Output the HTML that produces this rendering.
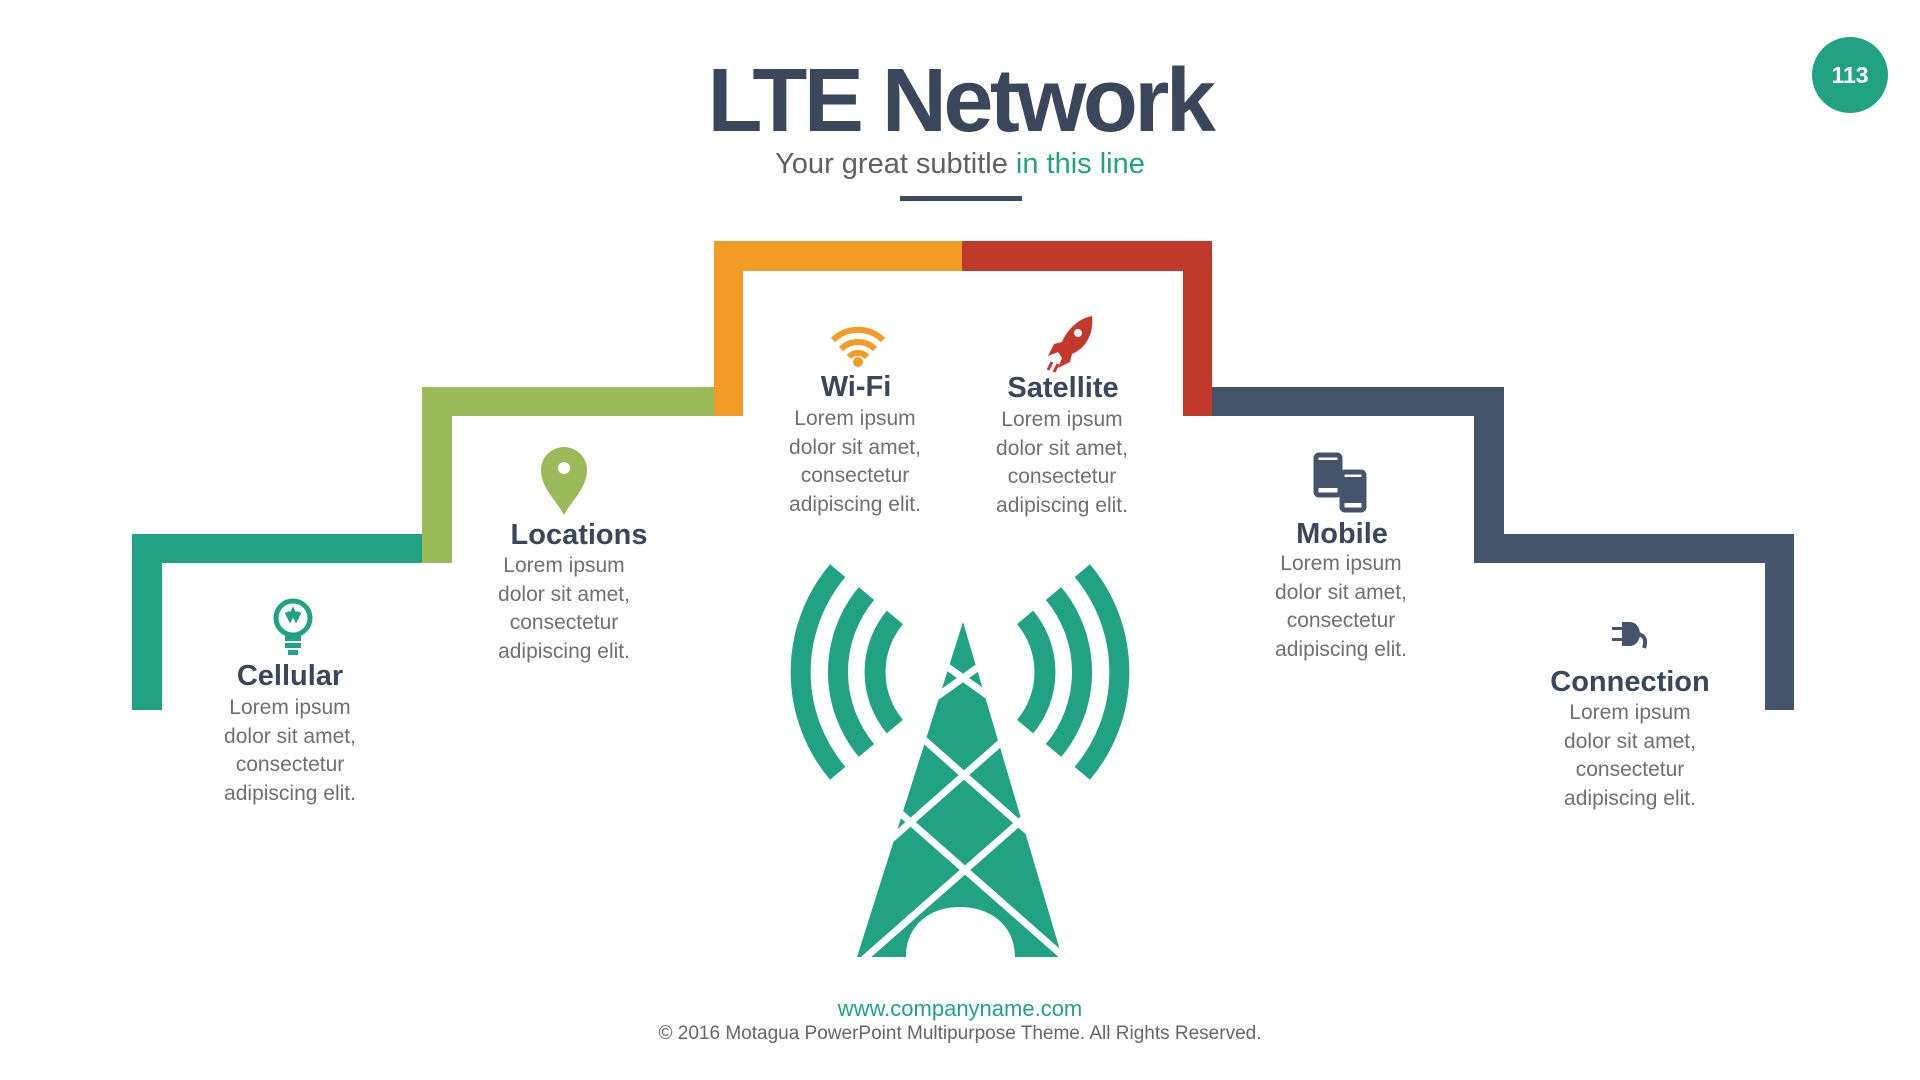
<!DOCTYPE html>
<html><head><meta charset="utf-8"><style>
body{margin:0;width:1920px;height:1080px;background:#fff;position:relative;overflow:hidden;font-family:"Liberation Sans",sans-serif}
.a{position:absolute}
.t{position:absolute;width:320px;text-align:center;font-weight:bold;font-size:29px;color:#3a475a;line-height:36px}
.b{position:absolute;width:320px;text-align:center;font-size:21px;color:#707070;line-height:28.5px}
</style></head><body>
<div class="a" style="left:0;width:1920px;top:46px;text-align:center;font-size:90px;font-weight:bold;letter-spacing:-3.5px;color:#3a475a;line-height:110px">LTE Network</div>
<div class="a" style="left:0;width:1920px;top:146px;text-align:center;font-size:29px;color:#606060;line-height:36px">Your great subtitle <span style="color:#21a383">in this line</span></div>
<div class="a" style="left:900px;top:196px;width:122px;height:5px;background:#3d4b60"></div>
<div class="a" style="left:1812px;top:37px;width:76px;height:76px;border-radius:50%;background:#21a383;color:#fff;font-weight:bold;font-size:23px;text-align:center;line-height:76px">113</div>

<svg class="a" style="left:0;top:0" width="1920" height="1080">
<g>
<rect x="132" y="534" width="30" height="176" fill="#21a383"/>
<rect x="132" y="534" width="290" height="29" fill="#21a383"/>
<rect x="422" y="387" width="30" height="176" fill="#9bbb5a"/>
<rect x="422" y="387" width="292" height="29" fill="#9bbb5a"/>
<rect x="714" y="241" width="29" height="175" fill="#f29b26"/>
<rect x="714" y="241" width="248" height="30" fill="#f29b26"/>
<rect x="962" y="241" width="250" height="30" fill="#c0392b"/>
<rect x="1183" y="241" width="29" height="175" fill="#c0392b"/>
<rect x="1212" y="387" width="292" height="29" fill="#44546a"/>
<rect x="1474" y="387" width="30" height="176" fill="#44546a"/>
<rect x="1474" y="534" width="320" height="29" fill="#44546a"/>
<rect x="1765" y="534" width="29" height="176" fill="#44546a"/>
</g>
<defs><clipPath id="tc"><path d="M963 622 L857 957 L906 957 C906 925 930 907 960 907 C990 907 1015 925 1015 957 L1062 957 Z"/></clipPath></defs>
<path d="M963 622 L857 957 L906 957 C906 925 930 907 960 907 C990 907 1015 925 1015 957 L1062 957 Z" fill="#21a383"/>
<g clip-path="url(#tc)" stroke="#fff" stroke-width="7">
<line x1="863" y1="607" x2="1063" y2="749"/><line x1="1063" y1="607" x2="863" y2="749"/>
<line x1="844" y1="669" x2="1084" y2="881"/><line x1="1084" y1="669" x2="844" y2="881"/>
<line x1="840" y1="760" x2="1090" y2="980"/><line x1="1090" y1="760" x2="840" y2="980"/>
</g>
<g fill="none" stroke="#21a383" stroke-width="20">
<path d="M837.7 570.7 A157 157 0 0 0 837.7 773.3"/>
<path d="M866.5 593.6 A122 122 0 0 0 866.5 750.4"/>
<path d="M894.9 617.4 A85 85 0 0 0 894.9 726.6" stroke-width="21"/>
<path d="M1082.3 570.7 A157 157 0 0 1 1082.3 773.3"/>
<path d="M1053.5 593.6 A122 122 0 0 1 1053.5 750.4"/>
<path d="M1025.1 617.4 A85 85 0 0 1 1025.1 726.6" stroke-width="21"/>
</g>
<g fill="none" stroke="#21a383" stroke-width="5">
<circle cx="293" cy="618" r="17"/>
<path d="M287 612 l3 6 l3-6 l3 6 l3-6"/>
</g>
<rect x="285" y="636" width="16" height="5" fill="#21a383"/><rect x="285" y="643" width="16" height="5" fill="#21a383"/><rect x="288" y="650" width="10" height="5" fill="#21a383"/>
<path d="M564 515 C556 500 541 488 541 470 A23 23 0 0 1 587 470 C587 488 572 500 564 515Z" fill="#9bbb5a"/>
<circle cx="564" cy="468" r="6" fill="#fff"/>
<g fill="none" stroke="#f29b26" stroke-width="6">
<path d="M833 340 A36 36 0 0 1 883 340"/><path d="M841 349 A24 24 0 0 1 875 349"/><path d="M849 357 A12 12 0 0 1 867 357"/>
</g>
<circle cx="858" cy="362" r="5" fill="#f29b26"/>
<path d="M1092 316 C1080 318 1068 328 1062 342 L1054 344 L1048 356 L1058 352 L1062 358 L1058 368 L1070 362 L1072 354 C1086 348 1094 334 1092 316Z" fill="#c0392b"/>
<circle cx="1078" cy="333" r="4" fill="#fff"/>
<path d="M1052 362 l-4 8 M1058 364 l-4 8" stroke="#c0392b" stroke-width="3"/>
<g fill="none" stroke="#44546a" stroke-width="5">
<rect x="1316" y="455" width="24" height="40" rx="3"/>
<rect x="1342" y="472" width="22" height="38" rx="3"/>
</g>
<rect x="1318" y="460" width="20" height="28" fill="#44546a"/><rect x="1344" y="477" width="18" height="26" fill="#44546a"/>
<path d="M1612 627 h10 v-5 h8 a10 12 0 0 1 0 24 h-8 v-5 h-10 v-3 h10 v-8 h-10z" fill="#44546a"/>
<path d="M1638 634 q10 2 6 14" fill="none" stroke="#44546a" stroke-width="4"/>
</svg>

<div class="t" style="left:130px;top:658px">Cellular</div>
<div class="b" style="left:130px;top:694px">Lorem ipsum<br>dolor sit amet,<br>consectetur<br>adipiscing elit.</div>
<div class="t" style="left:419px;top:517px">Locations</div>
<div class="b" style="left:404px;top:552px">Lorem ipsum<br>dolor sit amet,<br>consectetur<br>adipiscing elit.</div>
<div class="t" style="left:696px;top:369px">Wi-Fi</div>
<div class="b" style="left:695px;top:405px">Lorem ipsum<br>dolor sit amet,<br>consectetur<br>adipiscing elit.</div>
<div class="t" style="left:903px;top:370px">Satellite</div>
<div class="b" style="left:902px;top:406px">Lorem ipsum<br>dolor sit amet,<br>consectetur<br>adipiscing elit.</div>
<div class="t" style="left:1182px;top:516px">Mobile</div>
<div class="b" style="left:1181px;top:550px">Lorem ipsum<br>dolor sit amet,<br>consectetur<br>adipiscing elit.</div>
<div class="t" style="left:1470px;top:664px">Connection</div>
<div class="b" style="left:1470px;top:699px">Lorem ipsum<br>dolor sit amet,<br>consectetur<br>adipiscing elit.</div>

<div class="a" style="left:0;width:1920px;top:996px;text-align:center;font-size:22px;color:#21a383;line-height:26px">www.companyname.com</div>
<div class="a" style="left:0;width:1920px;top:1022px;text-align:center;font-size:19px;color:#666;line-height:24px">© 2016 Motagua PowerPoint Multipurpose Theme. All Rights Reserved.</div>
</body></html>
